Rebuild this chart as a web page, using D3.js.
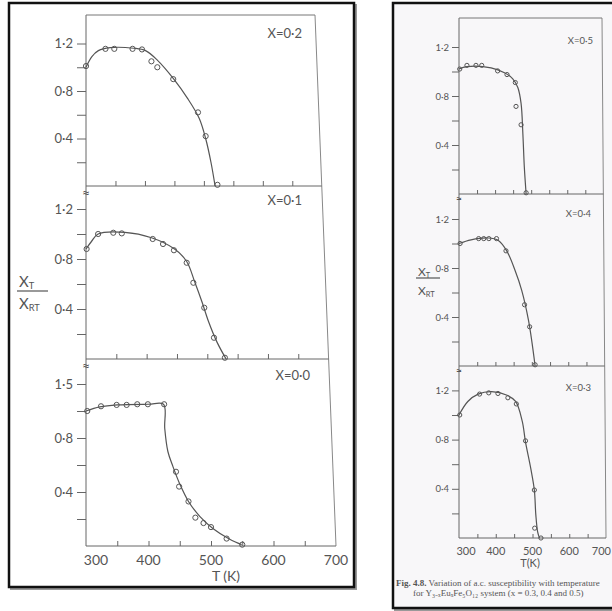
<!DOCTYPE html>
<html><head><meta charset="utf-8">
<script src="https://cdn.jsdelivr.net/npm/d3@7/dist/d3.min.js"></script>
<style>
html,body{margin:0;padding:0;background:#fff;}
svg{display:block;}
text{font-family:"Lato","Open Sans","DejaVu Sans",sans-serif;fill:#555;}
</style></head>
<body>
<svg id="c" width="612" height="611"></svg>
<script>
// ---------------- DATA ----------------
const xTickValues = [350,400,450,500,550,600,650];
const xTickLabels = [300,400,500,600,700];
const yTickValues = [0.2,0.4,0.6,0.8,1.0,1.2];
const yTickLabels = {0.4:"0·4",0.8:"0·8",1.2:"1·2"};
const yTickLabelsX00 = {0.4:"0·4",0.8:"0·8",1.2:"1·5"};

// Left figure  x = 0.2, 0.1, 0.0
const x02PtsT = [300,333,348,379,395,411,421,448,490,503,523];
const x02PtsV = [1.01,1.155,1.155,1.155,1.15,1.05,1.0,0.90,0.62,0.42,0.01];
const x02CurT = [300,310,321,341,381,401,421,449,472,492,503,512,519];
const x02CurV = [1.0,1.09,1.14,1.165,1.16,1.14,1.06,0.9,0.74,0.57,0.40,0.20,0.0];

const x01PtsT = [301,320,345,359,410,427,445,466,477,495,511,529];
const x01PtsV = [0.88,1.0,1.01,1.005,0.96,0.92,0.87,0.77,0.61,0.41,0.17,0.01];
const x01CurT = [300,309,320,364,408,446,466,479,491,502,516,531];
const x01CurV = [0.88,0.94,1.0,1.013,0.97,0.88,0.78,0.62,0.46,0.30,0.135,0.0];

const x00PtsT = [302,324,349,365,382,399,425,444,449,464,475,488,500,525,550];
const x00PtsV = [1.0,1.035,1.045,1.045,1.05,1.05,1.05,0.55,0.44,0.33,0.21,0.17,0.14,0.055,0.01];
const x00CurT = [300,322,350,400,424,426,431,439,450,464,482,503,530,549];
const x00CurV = [1.0,1.03,1.045,1.05,1.05,0.87,0.70,0.59,0.46,0.33,0.22,0.13,0.05,0.01];

// Right figure  x = 0.5, 0.4, 0.3
const x05PtsT = [302,322,347,363,407,433,456,458,472,486];
const x05PtsV = [1.02,1.05,1.05,1.05,1.005,0.975,0.91,0.715,0.565,0.01];
const x05CurT = [300,322,389,426,449,463,472,477,481,486];
const x05CurV = [1.02,1.04,1.03,0.99,0.94,0.87,0.74,0.49,0.22,0.0];

const x04PtsT = [303,354,368,382,403,429,480,494,509];
const x04PtsV = [1.0,1.04,1.04,1.04,1.04,0.94,0.50,0.32,0.01];
const x04CurT = [300,333,380,408,431,454,472,491,509];
const x04CurV = [1.0,1.03,1.045,1.025,0.94,0.78,0.62,0.37,0.0];

const x03PtsT = [302,356,381,406,433,456,481,505,506,523];
const x03PtsV = [1.0,1.17,1.18,1.175,1.14,1.09,0.79,0.39,0.08,0.0];
const x03CurT = [300,324,352,389,431,454,472,481,495,505,509,514,519];
const x03CurV = [1.0,1.11,1.17,1.19,1.16,1.11,0.95,0.78,0.57,0.39,0.19,0.05,0.0];

const panelNames = ["X=0·2","X=0·1","X=0·0","X=0·5","X=0·4","X=0·3"];
const captionLine1 = ["Fig. 4.8.", " Variation of a.c. susceptibility  with temperature"];
const captionLine2 = "for Y₃₋ₓEuₓFe₅O₁₂ system (x = 0.3, 0.4 and 0.5)";

// ---------------- LAYOUT ----------------
const svg = d3.select("#c");
const zip = (a,b)=>a.map((t,i)=>({t:t,v:b[i]}));

const figs = [
 { frame:{x:9,y:3,w:345,h:584}, left:86, fs:13, tickOut:9, tickIn:5, labGap:4, r:2.6,
   rTop:315, rBot:336, xfs:14, first:10, lastAnchor:null,
   xlabel:{text:"T (K)", x:226, y:581, fs:14}, xlabY:565, ylab:{x:18,yT:287,yL:291,yB:309,fs:15,w:30},
   panels:[
    {top:15, bottom:186, ppu:118.75, name:panelNames[0], nx:302, ny:38, pts:zip(x02PtsT,x02PtsV), cur:zip(x02CurT,x02CurV), ylabs:yTickLabels, brk:false},
    {top:186, bottom:359, ppu:125, name:panelNames[1], nx:302, ny:205, pts:zip(x01PtsT,x01PtsV), cur:zip(x01CurT,x01CurV), ylabs:yTickLabels, brk:true},
    {top:359, bottom:546, ppu:135, name:panelNames[2], nx:310, ny:380, pts:zip(x00PtsT,x00PtsV), cur:zip(x00CurT,x00CurV), ylabs:yTickLabelsX00, brk:true}
   ]},
 { frame:{x:393,y:3,w:230,h:605}, left:459, fs:9.5, tickOut:7, tickIn:4, labGap:3, r:2.1,
   rTop:602, rBot:606, xfs:11, first:7, lastAnchor:611,
   xlabel:{text:"T(K)", x:530, y:567, fs:11}, xlabY:555, ylab:{x:417,yT:276,yL:278,yB:295,fs:12,w:23},
   panels:[
    {top:18, bottom:194, ppu:122.5, name:panelNames[3], nx:593, ny:44, pts:zip(x05PtsT,x05PtsV), cur:zip(x05CurT,x05CurV), ylabs:yTickLabels, brk:false},
    {top:194, bottom:366, ppu:122.5, name:panelNames[4], nx:591, ny:217, pts:zip(x04PtsT,x04PtsV), cur:zip(x04CurT,x04CurV), ylabs:yTickLabels, brk:true},
    {top:366, bottom:538, ppu:123, name:panelNames[5], nx:591, ny:391, pts:zip(x03PtsT,x03PtsV), cur:zip(x03CurT,x03CurV), ylabs:yTickLabels, brk:true}
   ]}
];

// frames
[1,0].forEach(i=>{
  const fr = figs[i].frame;
  svg.append("rect").attr("x",fr.x+2).attr("y",fr.y+2).attr("width",fr.w).attr("height",fr.h)
    .attr("fill","none").attr("stroke","#999").attr("stroke-width",2);
  svg.append("rect").attr("x",fr.x).attr("y",fr.y).attr("width",fr.w).attr("height",fr.h)
    .attr("fill",i===1?"#f8f7f9":"#fff").attr("stroke","#111").attr("stroke-width",2.5);
});

figs.forEach((f,fi)=>{
  const g = svg.append("g");
  const top0 = f.panels[0].top, bot2 = f.panels[2].bottom;
  const border = yy => f.rTop + (yy-top0)*(f.rBot-f.rTop)/(bot2-top0);
  // slanted right border and left axis
  g.append("line").attr("x1",f.rTop).attr("x2",f.rBot).attr("y1",top0).attr("y2",bot2).attr("stroke","#888").attr("stroke-width",1);
  g.append("line").attr("x1",f.left).attr("x2",f.left).attr("y1",top0).attr("y2",bot2).attr("stroke","#666").attr("stroke-width",1);
  g.append("line").attr("x1",f.left).attr("x2",f.rTop).attr("y1",top0).attr("y2",top0).attr("stroke","#777").attr("stroke-width",1);
  f.panels.forEach((p,pi)=>{
    const xr = border(p.bottom);
    const x = d3.scaleLinear().domain([300,700]).range([f.left,xr]);
    const y = d3.scaleLinear().domain([0,(p.bottom-p.top)/p.ppu]).range([p.bottom,p.top]);
    const pg = g.append("g");
    pg.append("line").attr("x1",f.left).attr("x2",xr).attr("y1",p.bottom).attr("y2",p.bottom).attr("stroke","#666").attr("stroke-width",1);
    // x axis ticks (inward)
    const xa = d3.axisTop(x).tickValues(xTickValues).tickSize(f.tickIn).tickFormat("");
    const xg = pg.append("g").attr("transform",`translate(0,${p.bottom})`).call(xa);
    xg.select(".domain").remove();
    xg.selectAll("line").attr("stroke","#666");
    // y axis ticks (outward)
    const ya = d3.axisLeft(y).tickValues(yTickValues).tickSize(f.tickOut).tickPadding(f.labGap)
      .tickFormat(d=>p.ylabs[Math.round(d*10)/10]||"");
    const yg = pg.append("g").attr("transform",`translate(${f.left},0)`).call(ya);
    yg.select(".domain").remove();
    yg.selectAll("line").attr("stroke","#666");
    yg.selectAll("text").attr("font-size",f.fs).attr("fill","#555").attr("font-family",'"Lato","Open Sans",sans-serif');
    // break mark
    if(p.brk){
      pg.append("text").attr("x",f.left).attr("y",p.top+(fi===0?12:9)).attr("text-anchor","middle")
        .attr("font-size",fi===0?14:11).attr("fill","#666").text("≈");
    }
    // curve
    const line = d3.line().x(d=>x(d.t)).y(d=>y(d.v)).curve(d3.curveCatmullRom.alpha(0.5));
    pg.append("path").datum(p.cur).attr("d",line).attr("fill","none").attr("stroke","#555").attr("stroke-width",1.2);
    // points
    pg.selectAll("circle").data(p.pts).join("circle")
      .attr("cx",d=>x(d.t)).attr("cy",d=>y(d.v)).attr("r",f.r)
      .attr("fill","none").attr("stroke","#555").attr("stroke-width",1);
    // panel name
    pg.append("text").attr("x",p.nx).attr("y",p.ny).attr("text-anchor","end").attr("font-size",f.fs).text(p.name);
    // bottom labels
    if(pi===2){
      pg.selectAll(".xl").data(xTickLabels).join("text").attr("class","xl")
        .attr("x",d=>(d===700 && f.lastAnchor)? f.lastAnchor : x(d)+(d===300?f.first:0))
        .attr("y",f.xlabY)
        .attr("text-anchor",d=>(d===700 && f.lastAnchor)?"end":"middle")
        .attr("font-size",f.xfs).text(d=>d);
      pg.append("text").attr("x",f.xlabel.x).attr("y",f.xlabel.y).attr("text-anchor","middle").attr("font-size",f.xlabel.fs).text(f.xlabel.text);
    }
  });
  // y label chi_T / chi_RT
  const yl = f.ylab;
  const t1 = g.append("text").attr("x",yl.x+1).attr("y",yl.yT).attr("font-size",yl.fs);
  t1.append("tspan").text("X");
  t1.append("tspan").attr("font-size",yl.fs*0.62).attr("dy",2).text("T");
  g.append("line").attr("x1",yl.x-1).attr("x2",yl.x+yl.w).attr("y1",yl.yL).attr("y2",yl.yL).attr("stroke","#555").attr("stroke-width",1.2);
  const t2 = g.append("text").attr("x",yl.x+1).attr("y",yl.yB).attr("font-size",yl.fs);
  t2.append("tspan").text("X");
  t2.append("tspan").attr("font-size",yl.fs*0.62).attr("dy",2).text("RT");
});

// caption
const cap = svg.append("g");
const c1 = cap.append("text").attr("x",396).attr("y",586).attr("font-size",9).style("font-family",'"Liberation Serif",serif').attr("fill","#666");
c1.append("tspan").attr("font-weight","bold").text(captionLine1[0]);
c1.append("tspan").text(captionLine1[1]);
cap.append("text").attr("x",413).attr("y",596).attr("font-size",9).style("font-family",'"Liberation Serif",serif').attr("fill","#666").text(captionLine2);
</script>
</body></html>
